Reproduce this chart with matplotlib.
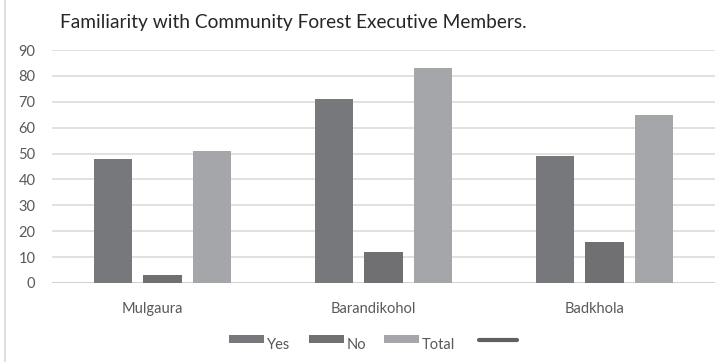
import matplotlib
matplotlib.use("Agg")
import matplotlib.pyplot as plt
from matplotlib.patches import Rectangle
from matplotlib.lines import Line2D
from matplotlib.transforms import ScaledTranslation
import numpy as np

plt.rcParams['font.family'] = ['Lato', 'DejaVu Sans']

categories = ["Mulgaura", "Barandikohol", "Badkhola"]
yes_vals = [48, 71, 49]
no_vals = [3, 12, 16]
total_vals = [51, 83, 65]
series_names = ["Yes", "No", "Total"]
colors = ["#77787b", "#707073", "#a5a6a9"]
y_ticks = list(range(0, 91, 10))

W, H = 727, 362
fig = plt.figure(figsize=(W / 100, H / 100), dpi=100)


def fx(px):
    return px / W


def fy(py):
    return 1 - py / H


ax = fig.add_axes([fx(52), fy(283), (715 - 52) / W, (283 - 50) / H])

x = np.arange(len(categories))
width = 0.176
offset = 0.224
for i, (vals, c) in enumerate(zip([yes_vals, no_vals, total_vals], colors)):
    ax.bar(x + (i - 1) * offset, vals, width, color=c, zorder=3)

ax.set_xlim(-0.5, len(categories) - 0.5)
ax.set_ylim(0, 90)
ax.set_yticks(y_ticks)
ax.set_xticks(x)
ax.set_xticklabels(categories)
ax.grid(axis='y', color='#dcdcdc', linewidth=1.2, zorder=0)
for s in ax.spines.values():
    s.set_visible(False)
ax.tick_params(axis='both', length=0, colors='#595959', labelsize=10.5)
ax.tick_params(axis='y', pad=12)
ax.tick_params(axis='x', pad=14)
shift = ScaledTranslation(-7 / 72, 0, fig.dpi_scale_trans)
for lbl in ax.get_xticklabels():
    lbl.set_transform(lbl.get_transform() + shift)
ax.axhline(0, color='#d0d0d0', linewidth=1.2, zorder=2)

fig.text(fx(60), fy(22.5), "Familiarity with Community Forest Executive Members.",
         fontsize=13.8, color='#262626', va='center', ha='left')

# legend: three swatches and an unlabeled line entry
legend_items = [(229, "Yes"), (309, "No"), (384, "Total")]
for (px, name), c in zip(legend_items, colors):
    fig.add_artist(Rectangle((fx(px), fy(343)), 35 / W, 8 / H,
                             transform=fig.transFigure, facecolor=c, edgecolor='none'))
    fig.text(fx(px + 38), fy(345), name, fontsize=10.5, color='#595959',
             va='center', ha='left')
fig.add_artist(Line2D([fx(479), fx(517)], [fy(340), fy(340)], transform=fig.transFigure,
                      color='#606060', linewidth=3, solid_capstyle='round'))

fig.add_artist(Line2D([fx(5), fx(5)], [0, 1], transform=fig.transFigure,
                      color='#d9d9d9', linewidth=1.2))

fig.savefig("out.png", dpi=100, facecolor='white')
